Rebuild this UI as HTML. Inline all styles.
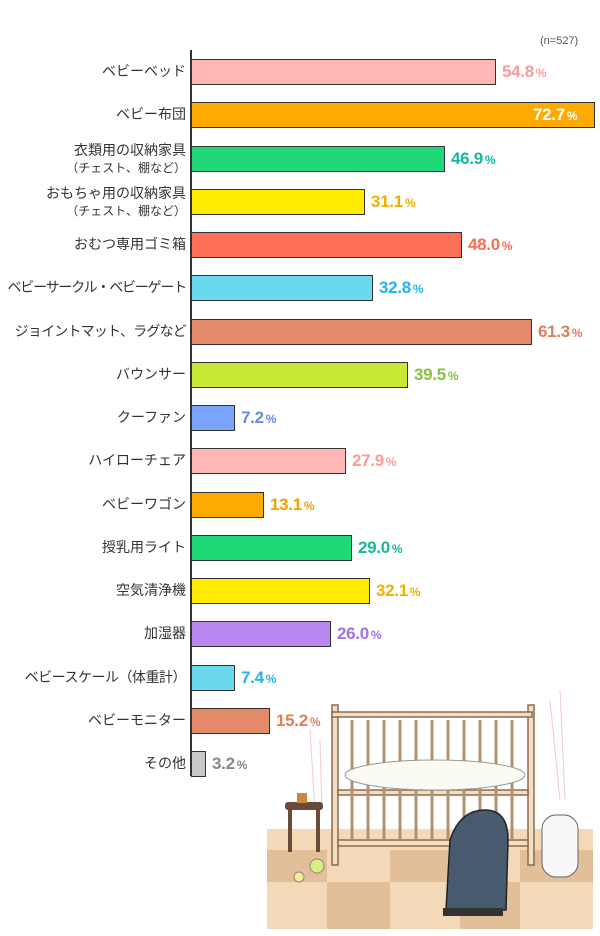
<!DOCTYPE html>
<html><head><meta charset="utf-8"><style>
body{margin:0;width:600px;height:936px;background:#fff;position:relative;overflow:hidden;font-family:"Liberation Sans","Noto Sans CJK JP",sans-serif}
.l{position:absolute;right:414px;text-align:right;color:#333;font-size:14px;line-height:17px;white-space:nowrap}
.l small{font-size:12px}
.b{position:absolute;left:191px;height:24px;border:1px solid #333;box-sizing:content-box}
.v{position:absolute;font-weight:bold;font-size:17px;line-height:26px;white-space:nowrap;letter-spacing:-0.3px}
.v span{font-size:12px;margin-left:2px}
</style></head><body>
<div style="position:absolute;left:540px;top:35px;font-size:11px;color:#555">(n=527)</div>
<div style="position:absolute;left:190px;top:50px;width:1.5px;height:726px;background:#333"></div>
<div id="c"></div>
<svg style="position:absolute;left:260px;top:670px" width="340" height="266">
<rect x="7" y="159" width="326" height="100" fill="#f3d9b8"/>
<g fill="#e2bf98"><rect x="7" y="180" width="60" height="32"/><rect x="130" y="180" width="70" height="32"/><rect x="260" y="180" width="73" height="32"/><rect x="67" y="212" width="63" height="47"/><rect x="200" y="212" width="60" height="47"/></g>
<g stroke="#f6c8d0" fill="none"><path d="M50 60 L55 140 M60 70 L62 140 M290 30 L300 130 M300 20 L305 130"/></g>
<g stroke="#8a6a50" stroke-width="1.5" fill="#f2dfc0">
<rect x="72" y="35" width="6" height="160"/><rect x="268" y="35" width="6" height="160"/>
<rect x="72" y="42" width="200" height="5"/><rect x="78" y="170" width="190" height="6"/>
<rect x="78" y="120" width="190" height="5"/></g>
<g stroke="#b09070" stroke-width="3">
<path d="M92 50V170M108 50V170M124 50V170M140 50V170M156 50V170M172 50V170M188 50V170M204 50V170M220 50V170M236 50V170M252 50V170"/></g>
<ellipse cx="175" cy="105" rx="90" ry="15" fill="#fbfbf4" stroke="#999"/>
<rect x="25" y="132" width="38" height="8" rx="3" fill="#6a4a38"/><path d="M30 140V182M58 140V182" stroke="#6a4a38" stroke-width="4"/>
<rect x="37" y="123" width="10" height="10" fill="#c88a3a"/>
<circle cx="57" cy="196" r="7" fill="#d8f080" stroke="#888"/><circle cx="39" cy="207" r="5" fill="#f8f090" stroke="#888"/>
<path d="M186 240 L190 170 Q200 140 225 140 Q248 140 248 170 L246 240 Z" fill="#475a6e" stroke="#222" stroke-width="1.5"/>
<rect x="183" y="238" width="60" height="8" fill="#333"/>
<rect x="282" y="145" width="36" height="62" rx="14" fill="#f6f8fa" stroke="#666"/>
</svg>
<script>
var d=[["ベビーベッド",54.8,"#ffb8b4","#ff9a98",496],["ベビー布団",72.7,"#ffaa00","#fff",595],["衣類用の収納家具<br><small>（チェスト、棚など）</small>",46.9,"#1fd878","#12b8a0",445],["おもちゃ用の収納家具<br><small>（チェスト、棚など）</small>",31.1,"#ffec00","#f0b000",365],["おむつ専用ゴミ箱",48.0,"#ff7058","#ff6a50",462],["<span style='letter-spacing:-1.2px'>ベビーサークル・ベビーゲート</span>",32.8,"#6cd8f0","#22b4ee",373],["<span style='letter-spacing:-0.8px'>ジョイントマット、ラグなど</span>",61.3,"#e48a68","#e07e5a",532],["バウンサー",39.5,"#c8ea34","#88c040",408],["クーファン",7.2,"#7aa4ff","#6a88e8",235],["ハイローチェア",27.9,"#ffb8b4","#ff9a98",346],["ベビーワゴン",13.1,"#ffaa00","#f0a000",264],["授乳用ライト",29.0,"#1fd878","#12b8a0",352],["空気清浄機",32.1,"#ffec00","#f0b000",370],["加湿器",26.0,"#b888f0","#a070e8",331],["<span style='letter-spacing:-0.5px'>ベビースケール（体重計）</span>",7.4,"#6cd8f0","#22b4ee",235],["ベビーモニター",15.2,"#e48a68","#e07e5a",270],["その他",3.2,"#c8c8c8","#888",206]];
var h="";d.forEach(function(r,i){var t=59+i*43.25,w=r[4]-191,two=r[0].indexOf("<br>")>0;
h+='<div class="l" style="top:'+(t+(two?-4:4))+'px">'+r[0]+'</div>';
h+='<div class="b" style="top:'+t+'px;width:'+(w-2)+'px;background:'+r[2]+'"></div>';
var x=i==1?191+w-62:191+w+6;
h+='<div class="v" style="top:'+t+'px;left:'+x+'px;color:'+r[3]+'">'+r[1].toFixed(1)+'<span>%</span></div>';});
document.getElementById("c").innerHTML=h;
</script>
</body></html>
